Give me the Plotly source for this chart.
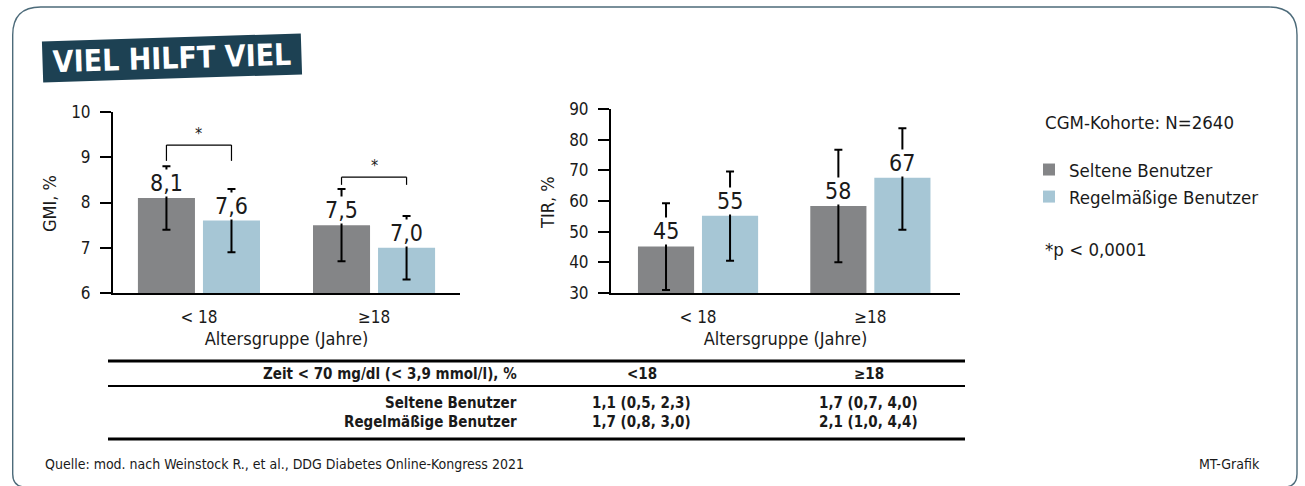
import plotly.graph_objects as go

W, H = 1305, 486

# ---------------- data ----------------
age_groups = ["< 18", "≥18"]
series_names = ["Seltene Benutzer", "Regelmäßige Benutzer"]
series_colors = ["#848587", "#a6c6d5"]

gmi_seltene = [8.1, 7.5]
gmi_seltene_hi = [8.8, 8.3]
gmi_seltene_lo = [7.4, 6.7]
gmi_regel = [7.6, 7.0]
gmi_regel_hi = [8.3, 7.7]
gmi_regel_lo = [6.9, 6.3]
gmi_labels_seltene = ["8,1", "7,5"]
gmi_labels_regel = ["7,6", "7,0"]

tir_seltene = [45.2, 58.4]
tir_seltene_hi = [59.3, 76.7]
tir_seltene_lo = [31.0, 40.0]
tir_regel = [55.2, 67.6]
tir_regel_hi = [69.6, 83.7]
tir_regel_lo = [40.5, 50.6]
tir_labels_seltene = ["45", "58"]
tir_labels_regel = ["55", "67"]

gmi_ticks = [6, 7, 8, 9, 10]
tir_ticks = [30, 40, 50, 60, 70, 80, 90]

# significance brackets on GMI chart (top of bracket, bottom of legs)
gmi_sig_top = [9.27, 8.56]
gmi_sig_leg = [8.92, 8.39]

table_header = ["Zeit < 70 mg/dl (< 3,9 mmol/l), %", "<18", "≥18"]
table_rows = ["Seltene Benutzer", "Regelmäßige Benutzer"]
table_lt18 = ["1,1 (0,5, 2,3)", "1,7 (0,8, 3,0)"]
table_ge18 = ["1,7 (0,7, 4,0)", "2,1 (1,0, 4,4)"]

title_text = "VIEL HILFT VIEL"
cohort_text = "CGM-Kohorte: N=2640"
pvalue_text = "*p < 0,0001"
source_text = "Quelle: mod. nach Weinstock R., et al., DDG Diabetes Online-Kongress 2021"
credit_text = "MT-Grafik"

# ---------------- style ----------------
FONT = "Liberation Sans Narrow, DejaVu Sans Condensed, Arial Narrow, sans-serif"
TXT = "#1a1a1a"
BARGAP = 0.257
BARGROUPGAP = 0.123
OFF = (1 - BARGAP) / 4  # slot centre offset in category units


def px(x):
    return x / W


def py(y):
    return 1 - y / H


fig = go.Figure()


def add_bars(vals, hi, lo, name, color, xa, ya, show):
    fig.add_trace(go.Bar(
        x=age_groups, y=vals, name=name, marker_color=color,
        marker_line_width=0, xaxis=xa, yaxis=ya, showlegend=show,
        error_y=dict(type="data", symmetric=False,
                     array=[h - v for h, v in zip(hi, vals)],
                     arrayminus=[v - l for v, l in zip(vals, lo)],
                     color="black", thickness=2, width=4),
    ))


add_bars(gmi_seltene, gmi_seltene_hi, gmi_seltene_lo, series_names[0], series_colors[0], "x", "y", True)
add_bars(gmi_regel, gmi_regel_hi, gmi_regel_lo, series_names[1], series_colors[1], "x", "y", True)
add_bars(tir_seltene, tir_seltene_hi, tir_seltene_lo, series_names[0], series_colors[0], "x2", "y2", False)
add_bars(tir_regel, tir_regel_hi, tir_regel_lo, series_names[1], series_colors[1], "x2", "y2", False)

annotations = []
shapes = []

# value labels (white box hides the error bar behind the number)
for xr, yr, vals, labels, sgn in [
    ("x", "y", gmi_seltene, gmi_labels_seltene, -1),
    ("x", "y", gmi_regel, gmi_labels_regel, 1),
    ("x2", "y2", tir_seltene, tir_labels_seltene, -1),
    ("x2", "y2", tir_regel, tir_labels_regel, 1),
]:
    for i, (v, lab) in enumerate(zip(vals, labels)):
        annotations.append(dict(
            x=i + sgn * OFF, y=v, xref=xr, yref=yr, text=lab, showarrow=False,
            xanchor="center", yanchor="bottom", yshift=1, bgcolor="white", borderpad=0,
            font=dict(family=FONT, size=23, color=TXT)))

# significance brackets
for i, (top, leg) in enumerate(zip(gmi_sig_top, gmi_sig_leg)):
    xa, xb = i - OFF, i + OFF
    for (x0, y0, x1, y1) in [(xa, leg, xa, top), (xa, top, xb, top), (xb, top, xb, leg)]:
        shapes.append(dict(type="line", xref="x", yref="y", x0=x0, y0=y0, x1=x1, y1=y1,
                           line=dict(color="black", width=1.2)))
    annotations.append(dict(x=i, y=top, xref="x", yref="y", text="*", showarrow=False,
                            xanchor="center", yanchor="bottom", yshift=0,
                            font=dict(family=FONT, size=16, color=TXT)))


def note(x, y, text, size, xanchor="center", bold=False, **kw):
    annotations.append(dict(x=px(x), y=py(y), xref="paper", yref="paper",
                            text=("<b>" + text + "</b>") if bold else text,
                            showarrow=False, xanchor=xanchor, yanchor="middle",
                            font=dict(family=FONT, size=size, color=TXT), **kw))


# y-axis titles
note(50, 203, "GMI, %", 18, textangle=-90)
note(548, 203, "TIR, %", 18, textangle=-90)

# title banner
annotations.append(dict(x=px(172), y=py(58.5), xref="paper", yref="paper",
                        text="<b>" + title_text + "</b>", showarrow=False,
                        xanchor="center", yanchor="middle", textangle=-1.8,
                        bgcolor="#1d4153", borderpad=2, width=254, height=36,
                        font=dict(family="DejaVu Sans Condensed, Liberation Sans Narrow, sans-serif",
                                  size=30, color="white")))

# right-hand notes
note(1043, 122, cohort_text, 18.5, xanchor="left")
note(1043, 249, pvalue_text, 18.5, xanchor="left")

# table
TL, TR = 108, 965
for yy, lw in [(361, 3), (386, 2), (439, 3)]:
    shapes.append(dict(type="line", xref="paper", yref="paper", x0=px(TL), x1=px(TR),
                       y0=py(yy), y1=py(yy), line=dict(color="black", width=lw)))
TS = 15
note(519, 374, table_header[0], TS, xanchor="right", bold=True)
note(642, 374, table_header[1], TS, bold=True)
note(869, 374, table_header[2], TS, bold=True)
for r, yy in enumerate([403, 422]):
    note(519, yy, table_rows[r], TS, xanchor="right", bold=True)
    note(641, yy, table_lt18[r], TS, bold=True)
    note(868, yy, table_ge18[r], TS, bold=True)

# footer
note(43, 464, source_text, 14, xanchor="left")
note(1262, 464, credit_text, 14, xanchor="right")

# rounded frame
L, R, T, B = 12.7, 1297, 7, 487
rt, rb = 28, 13
frame = (f"M {px(L)},{py(T + rt)} Q {px(L)},{py(T)} {px(L + rt)},{py(T)} "
         f"L {px(R - rt)},{py(T)} Q {px(R)},{py(T)} {px(R)},{py(T + rt)} "
         f"L {px(R)},{py(B - rb)} Q {px(R)},{py(B)} {px(R - rb)},{py(B)} "
         f"L {px(L + rb)},{py(B)} Q {px(L)},{py(B)} {px(L)},{py(B - rb)} Z")
shapes.append(dict(type="path", xref="paper", yref="paper", path=frame,
                   line=dict(color="#4d6b7a", width=1.4), layer="below"))

axis_font = dict(family=FONT, size=17, color=TXT)
xcommon = dict(type="category", showline=True, linecolor="black", linewidth=2, ticks="",
               showgrid=False, zeroline=False, tickfont=axis_font, ticklabelstandoff=8,
               title=dict(text="Altersgruppe (Jahre)", font=dict(family=FONT, size=18, color=TXT),
                          standoff=6), fixedrange=True)
ycommon = dict(showline=True, linecolor="black", linewidth=2, ticks="outside", ticklen=11,
               tickwidth=2, tickcolor="black", showgrid=False, zeroline=False,
               tickfont=axis_font, ticklabelstandoff=6, fixedrange=True)

fig.update_layout(
    width=W, height=H, margin=dict(l=0, r=0, t=0, b=0, autoexpand=False),
    paper_bgcolor="white", plot_bgcolor="white",
    barmode="group", bargap=BARGAP, bargroupgap=BARGROUPGAP,
    font=dict(family=FONT, color=TXT),
    xaxis=dict(domain=[px(113), px(460)], range=[-0.491, 1.491], anchor="y", **xcommon),
    yaxis=dict(domain=[py(293), py(112)], range=[6, 10], tickvals=gmi_ticks, anchor="x", **ycommon),
    xaxis2=dict(domain=[px(611), px(960)], range=[-0.505, 1.52], anchor="y2", **xcommon),
    yaxis2=dict(domain=[py(293), py(109)], range=[30, 90], tickvals=tir_ticks, anchor="x2", **ycommon),
    legend=dict(x=px(1029), y=py(151), xanchor="left", yanchor="top",
                font=dict(family=FONT, size=18.5, color=TXT), bgcolor="rgba(0,0,0,0)",
                tracegroupgap=0, itemclick=False, itemdoubleclick=False),
    annotations=annotations, shapes=shapes,
)

fig.write_html(
    "out.html",
    config={"displayModeBar": False},
    post_script="document.documentElement.style.overflow='hidden';"
                "document.body.style.margin='0';document.body.style.overflow='hidden';",
)
